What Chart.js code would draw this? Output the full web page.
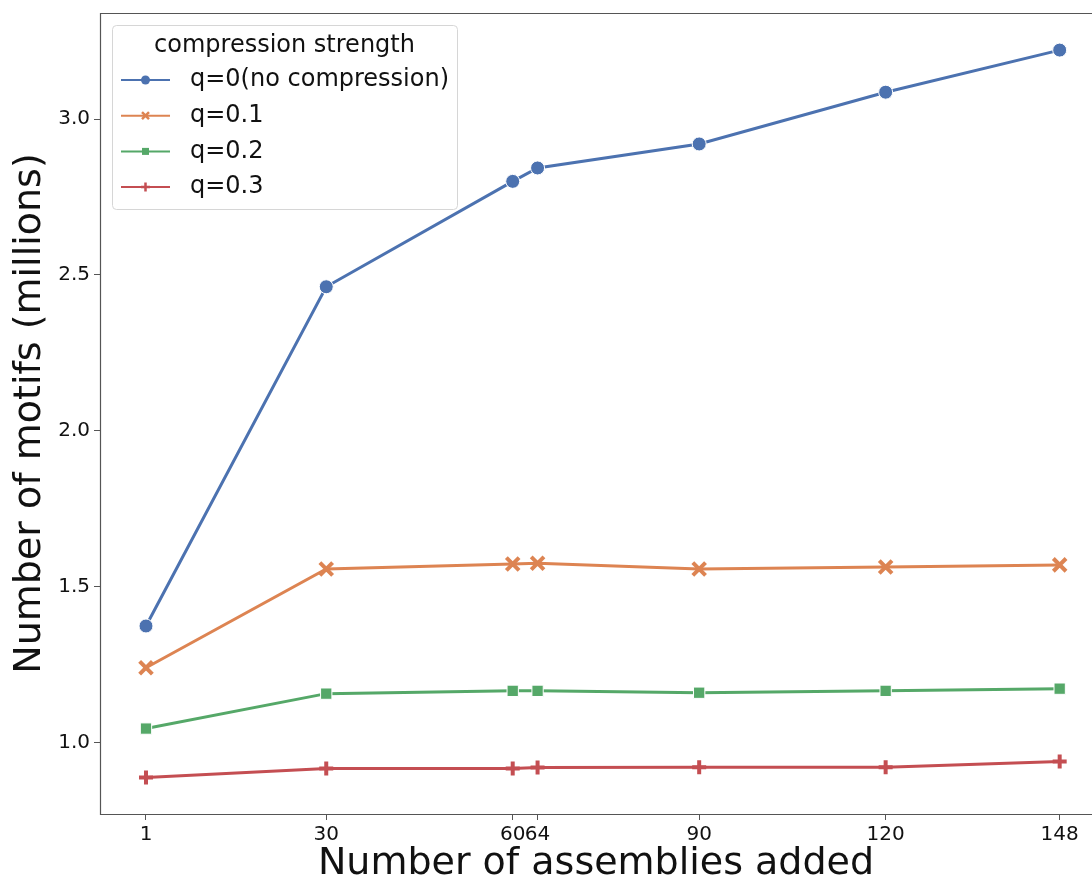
<!DOCTYPE html>
<html>
<head>
<meta charset="utf-8">
<script src="https://cdn.jsdelivr.net/npm/chart.js@4/dist/chart.umd.min.js"></script>
<style>
  body { margin: 0; background: #fff; }
  #wrap { width: 1092px; height: 881px; }
</style>
</head>
<body>
<div id="wrap"><canvas id="motifChart" width="1092" height="881"></canvas></div>
<script>
const assemblies = [1, 30, 60, 64, 90, 120, 148];
const q0 = [1.374, 2.462, 2.800, 2.843, 2.920, 3.086, 3.221];
const q01 = [1.240, 1.557, 1.573, 1.575, 1.557, 1.563, 1.570];
const q02 = [1.045, 1.157, 1.166, 1.166, 1.160, 1.166, 1.173];
const q03 = [0.888, 0.917, 0.917, 0.920, 0.921, 0.921, 0.939];
const xTicks = [1, 30, 60, 64, 90, 120, 148];
const yTicks = [1.0, 1.5, 2.0, 2.5, 3.0];

const seriesInfo = [
    { label: 'q=0(no compression)', values: q0, color: '#4c72b0', style: 'circle' },
    { label: 'q=0.1', values: q01, color: '#dd8452', style: 'crossRot' },
    { label: 'q=0.2', values: q02, color: '#55a868', style: 'rect' },
    { label: 'q=0.3', values: q03, color: '#c44e52', style: 'cross' }
];

const FONT = 'DejaVu Sans';

function markerOpts(s) {
    if (s.style === 'circle') return { pointRadius: 7, pointBorderColor: '#fff', pointBorderWidth: 1 };
    if (s.style === 'rect') return { pointRadius: 8, pointBorderColor: '#fff', pointBorderWidth: 1 };
    if (s.style === 'crossRot') return { pointRadius: 9, pointBorderColor: s.color, pointBorderWidth: 4 };
    return { pointRadius: 7, pointBorderColor: s.color, pointBorderWidth: 4 };
}

const datasets = seriesInfo.map(s => Object.assign({
    label: s.label,
    data: assemblies.map((x, i) => ({ x: x, y: s.values[i] })),
    borderColor: s.color,
    backgroundColor: s.color,
    pointBackgroundColor: s.color,
    pointStyle: s.style,
    borderWidth: 3,
    tension: 0
}, markerOpts(s)));

function drawMarker(ctx, style, x, y, color) {
    ctx.save();
    ctx.fillStyle = color;
    ctx.strokeStyle = color;
    if (style === 'circle') {
        ctx.beginPath();
        ctx.arc(x, y, 4.5, 0, Math.PI * 2);
        ctx.fill();
    } else if (style === 'rect') {
        ctx.fillRect(x - 3.5, y - 3.5, 7, 7);
    } else if (style === 'crossRot') {
        ctx.lineWidth = 2.5;
        ctx.beginPath();
        ctx.moveTo(x - 3.5, y - 3.5); ctx.lineTo(x + 3.5, y + 3.5);
        ctx.moveTo(x + 3.5, y - 3.5); ctx.lineTo(x - 3.5, y + 3.5);
        ctx.stroke();
    } else {
        ctx.lineWidth = 2.5;
        ctx.beginPath();
        ctx.moveTo(x - 4.5, y); ctx.lineTo(x + 4.5, y);
        ctx.moveTo(x, y - 4.5); ctx.lineTo(x, y + 4.5);
        ctx.stroke();
    }
    ctx.restore();
}

// spines (right one falls off the canvas) + legend box in the top left corner
const framePlugin = {
    id: 'frameAndLegend',
    afterDraw(chart) {
        const { ctx, chartArea: a } = chart;
        ctx.save();
        ctx.strokeStyle = '#555';
        ctx.lineWidth = 1.2;
        ctx.beginPath();
        ctx.moveTo(a.right, a.top + 0.5);
        ctx.lineTo(a.left + 0.5, a.top + 0.5);
        ctx.lineTo(a.left + 0.5, a.bottom + 0.5);
        ctx.lineTo(a.right, a.bottom + 0.5);
        ctx.stroke();

        const bx = 112, by = 25, bw = 345, bh = 184;
        ctx.beginPath();
        ctx.roundRect(bx + 0.5, by + 0.5, bw, bh, 4);
        ctx.fillStyle = 'rgba(255,255,255,0.8)';
        ctx.fill();
        ctx.strokeStyle = '#d6d6d6';
        ctx.lineWidth = 1;
        ctx.stroke();

        ctx.fillStyle = '#111';
        ctx.font = '24px "' + FONT + '"';
        ctx.textBaseline = 'middle';
        ctx.textAlign = 'center';
        ctx.fillText('compression strength', bx + bw / 2, 46);
        ctx.textAlign = 'left';
        seriesInfo.forEach((s, i) => {
            const y = 80 + i * 35.7;
            ctx.strokeStyle = s.color;
            ctx.lineWidth = 2;
            ctx.beginPath();
            ctx.moveTo(121, y);
            ctx.lineTo(170, y);
            ctx.stroke();
            drawMarker(ctx, s.style, 145.5, y, s.color);
            ctx.fillStyle = '#111';
            ctx.fillText(s.label, 190, y);
        });
        ctx.restore();
    }
};

const ctx = document.getElementById('motifChart').getContext('2d');
new Chart(ctx, {
    type: 'line',
    data: { datasets: datasets },
    options: {
        responsive: false,
        animation: false,
        events: [],
        layout: { autoPadding: false, padding: { top: 13, right: 0, left: 0, bottom: 0 } },
        plugins: {
            legend: { display: false },
            tooltip: { enabled: false }
        },
        scales: {
            x: {
                type: 'linear',
                min: -6.4,
                max: 153.2,
                afterFit: (scale) => {
                    scale.height = 67;
                    scale.paddingLeft = 0;
                    scale.paddingRight = 0;
                },
                afterBuildTicks: (scale) => { scale.ticks = xTicks.map(v => ({ value: v })); },
                grid: { drawOnChartArea: false, drawTicks: true, tickLength: 6, tickColor: '#555' },
                border: { display: false },
                ticks: {
                    autoSkip: false,
                    maxRotation: 0,
                    padding: 3,
                    color: '#111',
                    font: { family: FONT, size: 20 },
                    callback: (v) => String(v)
                },
                title: {
                    display: true,
                    text: 'Number of assemblies added',
                    color: '#111',
                    font: { family: FONT, size: 38, lineHeight: 1 },
                    padding: { top: 0, bottom: -2 }
                }
            },
            y: {
                min: 0.771,
                max: 3.340,
                afterFit: (scale) => {
                    scale.width = 100;
                    scale.paddingTop = 0;
                    scale.paddingBottom = 0;
                },
                afterBuildTicks: (scale) => { scale.ticks = yTicks.map(v => ({ value: v })); },
                grid: { drawOnChartArea: false, drawTicks: true, tickLength: 6, tickColor: '#555' },
                border: { display: false },
                ticks: {
                    padding: 4,
                    color: '#111',
                    font: { family: FONT, size: 20 },
                    callback: (v) => Number(v).toFixed(1)
                },
                title: {
                    display: true,
                    text: 'Number of motifs (millions)',
                    color: '#111',
                    font: { family: FONT, size: 38, lineHeight: 1 },
                    padding: { top: 11, bottom: 0 }
                }
            }
        }
    },
    plugins: [framePlugin]
});
</script>
</body>
</html>
